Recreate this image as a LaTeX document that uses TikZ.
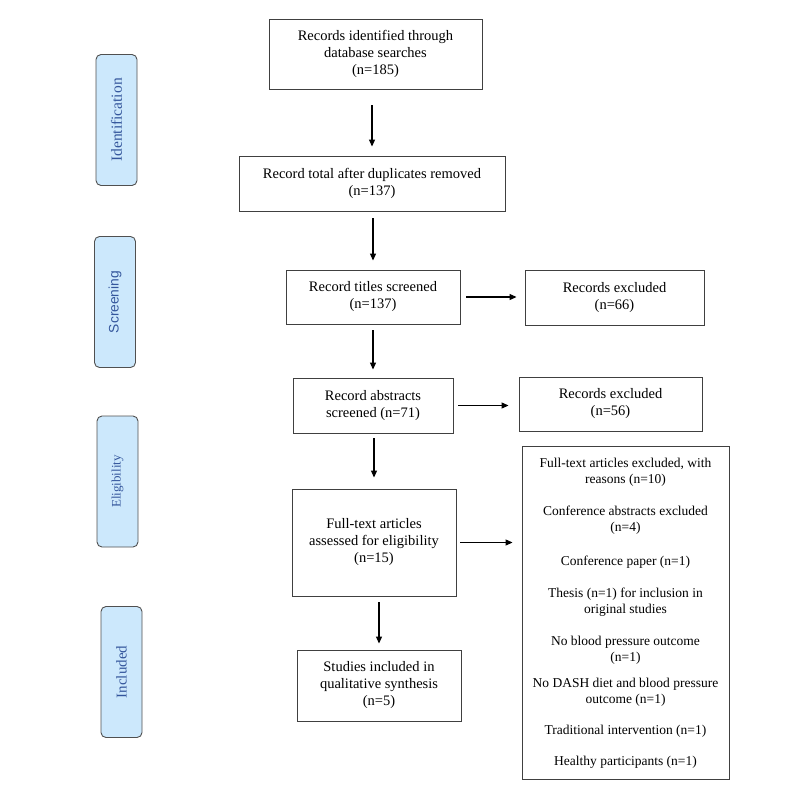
\documentclass[tikz,border=0pt]{standalone}
\usepackage{fontspec}
\setmainfont{Liberation Serif}
\setsansfont{Liberation Sans}
\usetikzlibrary{arrows.meta}
\definecolor{boxline}{RGB}{64,64,64}
\definecolor{sidefill}{RGB}{204,232,252}
\definecolor{sideline}{RGB}{80,80,80}
\definecolor{sidetext}{RGB}{52,86,156}
\tikzset{
  mainbox/.style={draw=boxline, line width=0.9pt, align=center, inner sep=0pt,
    font=\fontsize{14.5}{17}\selectfont},
  sidebox/.style={draw=sideline, fill=sidefill, line width=0.9pt, rounded corners=5pt,
    inner sep=0pt, minimum width=41pt, minimum height=131pt},
  sidelabel/.style={text=sidetext, rotate=90},
  reason/.style={align=center, inner sep=0pt, font=\fontsize{13.5}{16}\selectfont},
  arr/.style={line width=1.1pt, -{Triangle[length=7pt,width=6pt]}}
}
\begin{document}
\begin{tikzpicture}[x=1pt,y=-1pt]
\useasboundingbox (0,0) rectangle (800,800);
% side stage boxes
\node[sidebox] (sid) at (116.5,120) {};
\node[sidelabel, font=\fontsize{15.5}{17}\selectfont] at (sid) {Identification};
\node[sidebox] (sscr) at (115,302) {};
\node[sidelabel, font=\sffamily\fontsize{13.8}{16}\selectfont] at (sscr) {Screening};
\node[sidebox] (selig) at (117.5,481.5) {};
\node[sidelabel, font=\fontsize{13}{15}\selectfont] at (selig) {Eligibility};
\node[sidebox] (sinc) at (121.5,672) {};
\node[sidelabel, font=\fontsize{15}{17}\selectfont] at (sinc) {Included};
% main flow
\node[mainbox, minimum width=213pt, minimum height=70pt] (b1) at (375.5,54)
  {Records identified through\\database searches\\(n=185)};
\node[mainbox, minimum width=266pt, minimum height=55pt] (b2) at (372,183.5)
  {Record total after duplicates removed\\(n=137)};
\node[mainbox, minimum width=174pt, minimum height=54pt] (b3) at (373,297)
  {Record titles screened\\(n=137)};
\node[mainbox, minimum width=179pt, minimum height=55pt] (b4) at (614.5,297.5)
  {Records excluded\\(n=66)};
\node[mainbox, minimum width=160pt, minimum height=55pt] (b5) at (373,405.5)
  {Record abstracts\\screened (n=71)};
\node[mainbox, minimum width=183pt, minimum height=54pt] (b6) at (610.5,404)
  {Records excluded\\(n=56)};
\node[mainbox, minimum width=164pt, minimum height=107pt] (b7) at (374,542.5)
  {Full-text articles\\assessed for eligibility\\(n=15)};
\node[mainbox, minimum width=164pt, minimum height=71pt] (b8) at (379,685.5)
  {Studies included in\\qualitative synthesis\\(n=5)};
\node[mainbox, minimum width=207pt, minimum height=333pt] (b9) at (625.5,612.5) {};
% reasons
\node[reason] (r1) at (625.5,472.5) {Full-text articles excluded, with\\reasons (n=10)};
\node[reason] (r2) at (625.5,520) {Conference abstracts excluded\\(n=4)};
\node[reason] (r3) at (625.5,562) {Conference paper (n=1)};
\node[reason] (r4) at (625.5,602) {Thesis (n=1) for inclusion in\\original studies};
\node[reason] (r5) at (625.5,650) {No blood pressure outcome\\(n=1)};
\node[reason] (r6) at (625.5,692.5) {No DASH diet and blood pressure\\outcome (n=1)};
\node[reason] (r7) at (625.5,731) {Traditional intervention (n=1)};
\node[reason] (r8) at (625.5,762) {Healthy participants (n=1)};
% connectors
\draw[arr, shorten <=16pt, shorten >=9pt] (b1.south -| b2.north) -- (b2.north);
\draw[arr, shorten <=7pt, shorten >=9pt] (b2.south -| b3.north) -- (b3.north);
\draw[arr, shorten <=6pt, shorten >=8pt] (b3.east) -- (b3.east -| b4.west);
\draw[arr, shorten <=6pt, shorten >=8pt] (b3.south) -- (b5.north);
\draw[arr, shorten <=5pt, shorten >=10pt] (b5.east) -- (b5.east -| b6.west);
\draw[arr, shorten <=5pt, shorten >=11pt] (b5.south -| b7.north) -- (b7.north);
\draw[arr, shorten <=4pt, shorten >=9pt] (b7.east) -- (b7.east -| b9.west);
\draw[arr, shorten <=6pt, shorten >=6pt] (b7.south -| b8.north) -- (b8.north);
\end{tikzpicture}
\end{document}
